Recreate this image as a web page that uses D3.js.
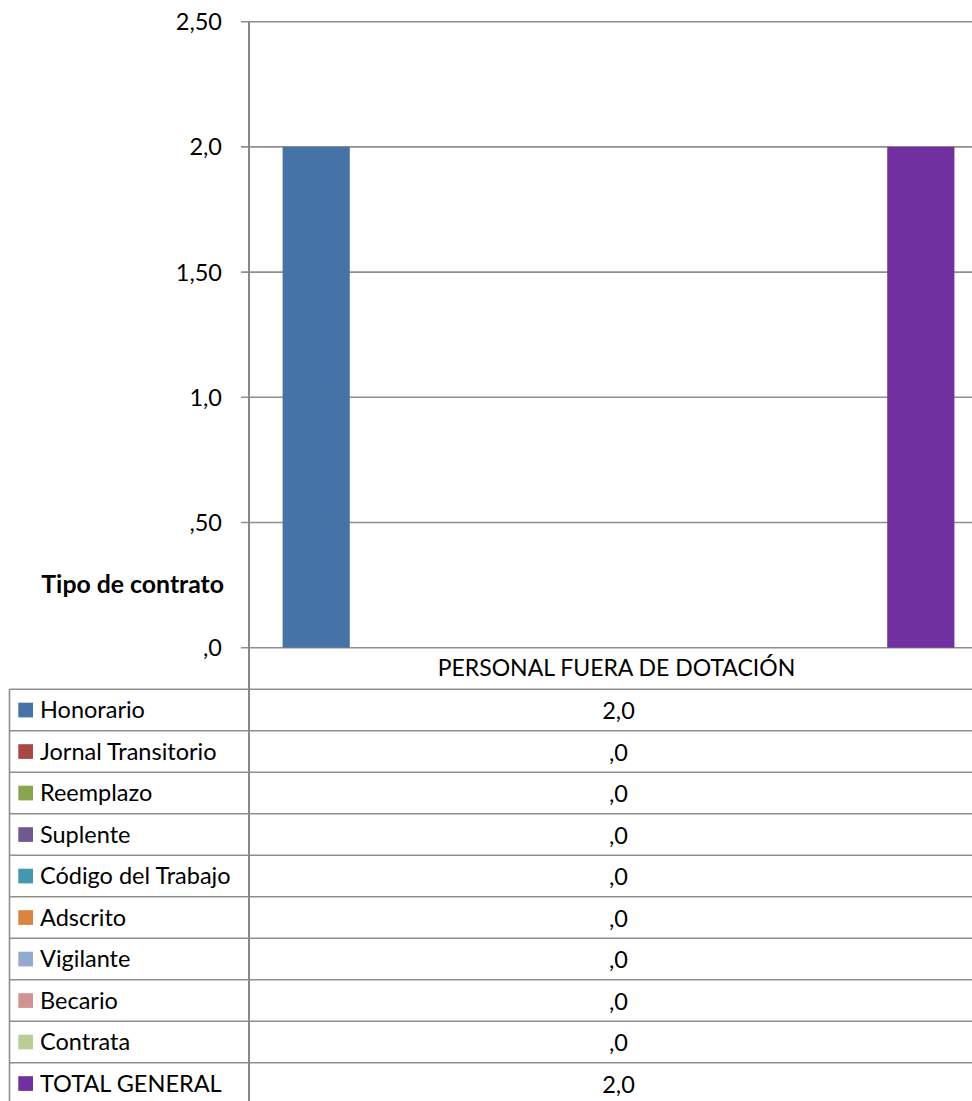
<!DOCTYPE html>
<html>
<head>
<meta charset="utf-8">
<script src="https://cdn.jsdelivr.net/npm/d3@7"></script>
<style>
  html, body { margin: 0; padding: 0; background: #fff; overflow: hidden; }
  svg { display: block; }
  text { font-family: Lato, "Noto Sans", sans-serif; fill: #000; }
</style>
</head>
<body>
<svg id="chart" width="972" height="1101"></svg>
<script>
const category = "PERSONAL FUERA DE DOTACIÓN";
const series = ["Honorario", "Jornal Transitorio", "Reemplazo", "Suplente", "Código del Trabajo",
                "Adscrito", "Vigilante", "Becario", "Contrata", "TOTAL GENERAL"];
const values = [2, 0, 0, 0, 0, 0, 0, 0, 0, 2];
const valueLabels = ["2,0", ",0", ",0", ",0", ",0", ",0", ",0", ",0", ",0", "2,0"];
const colors = ["#4572A7", "#AA4643", "#89A54E", "#71588F", "#4198AF",
                "#DB843D", "#93A9CF", "#D19392", "#B9CD96", "#7030A0"];
const tickValues = [0, 0.5, 1, 1.5, 2, 2.5];
const tickLabels = [",0", ",50", "1,0", "1,50", "2,0", "2,50"];
const tableTitle = "Tipo de contrato";

const svg = d3.select("#chart");
const plotLeft = 249, plotRight = 988, plotTop = 21.7, plotBottom = 647.7;
const tableLeft = 9.5;
const rowH = 41.5;
const fs = 23.5;
const gridColor = "#8f8f8f";

const y = d3.scaleLinear().domain([0, 2.5]).range([plotBottom, plotTop]);
const x = d3.scaleBand().domain(series).range([plotLeft, plotRight]).paddingInner(0).paddingOuter(0.5);

// gridlines + ticks
const gAxis = svg.append("g");
gAxis.selectAll("line.grid").data(tickValues).join("line")
  .attr("x1", plotLeft - 8).attr("x2", plotRight)
  .attr("y1", d => y(d)).attr("y2", d => y(d))
  .attr("stroke", gridColor).attr("stroke-width", 1.6);
gAxis.selectAll("text.tick").data(tickValues).join("text")
  .attr("x", 222).attr("y", d => y(d)).attr("dy", "0.36em")
  .attr("text-anchor", "end").attr("font-size", fs)
  .text((d, i) => tickLabels[i]);

// bars
svg.append("g").selectAll("rect").data(series).join("rect")
  .attr("x", d => x(d)).attr("width", x.bandwidth())
  .attr("y", (d, i) => y(values[i]))
  .attr("height", (d, i) => y(0) - y(values[i]))
  .attr("fill", (d, i) => colors[i]);

// table
const tableTop = plotBottom + rowH;
const tableBottom = tableTop + rowH * series.length;
const gT = svg.append("g");
const rowLines = d3.range(series.length + 1).map(i => tableTop + i * rowH);
gT.selectAll("line.row").data(rowLines).join("line")
  .attr("x1", tableLeft).attr("x2", plotRight)
  .attr("y1", d => d).attr("y2", d => d)
  .attr("stroke", gridColor).attr("stroke-width", 1.6);
gT.append("line").attr("x1", tableLeft).attr("x2", tableLeft)
  .attr("y1", tableTop).attr("y2", tableBottom)
  .attr("stroke", gridColor).attr("stroke-width", 1.6);
gT.append("line").attr("x1", plotRight).attr("x2", plotRight)
  .attr("y1", plotTop).attr("y2", tableBottom)
  .attr("stroke", gridColor).attr("stroke-width", 1.6);
gT.append("line").attr("x1", plotLeft).attr("x2", plotLeft)
  .attr("y1", plotTop).attr("y2", tableBottom)
  .attr("stroke", "#878787").attr("stroke-width", 2);

// header text
const midX = (plotLeft + plotRight) / 2;
gT.append("text").attr("x", midX - 2).attr("y", plotBottom + 28.5)
  .attr("text-anchor", "middle").attr("font-size", 23).text(category);

// title
svg.append("text").attr("x", 224).attr("y", 593)
  .attr("text-anchor", "end").attr("font-size", 24.8).attr("font-weight", "bold")
  .text(tableTitle);

// rows
const rows = gT.selectAll("g.r").data(series).join("g")
  .attr("transform", (d, i) => `translate(0,${tableTop + i * rowH})`);
rows.append("rect").attr("x", 18.3).attr("y", 13.5).attr("width", 14.7).attr("height", 14.7)
  .attr("fill", (d, i) => colors[i]);
rows.append("text").attr("x", 40).attr("y", 29).attr("font-size", fs).text(d => d);
rows.append("text").attr("x", midX).attr("y", 30).attr("text-anchor", "middle")
  .attr("font-size", fs).text((d, i) => valueLabels[i]);
</script>
</body>
</html>
